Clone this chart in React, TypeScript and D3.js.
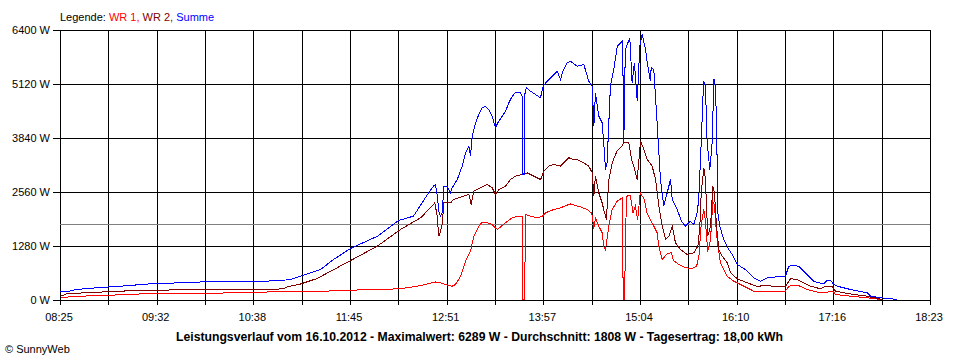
import React from "react";
import * as d3 from "d3";

// time in minutes after midnight, power in W
const sumTime = [505.0,510.5,515.3,532.5,546.2,566.9,587.5,601.2,635.6,656.2,663.1,671.3,683.7,692.7,704.3,722.9,737.3,747.6,758.0,761.4,762.8,764.1,765.0,766.2,767.4,768.5,770.8,773.1,774.2,777.7,781.1,783.4,785.7,786.8,788.0,790.3,792.5,794.9,797.1,799.4,801.7,804.0,805.6,808.6,810.9,813.2,815.5,817.7,821.2,822.4,822.8,823.6,824.3,825.3,828.1,831.5,834.9,836.8,839.5,843.0,846.4,848.7,849.9,853.3,855.6,860.2,864.7,868.1,870.5,871.6,872.7,875.0,877.3,878.4,879.6,880.7,883.0,885.3,887.7,891.1,891.6,892.2,893.0,893.3,896.3,897.9,899.5,901.4,903.2,904.8,907.1,908.3,910.5,911.0,912.8,915.1,917.4,919.7,922.0,924.3,925.5,928.9,931.9,934.6,938.0,940.3,942.6,943.7,945.4,946.8,947.2,948.3,949.5,951.3,952.9,954.1,954.7,955.9,956.8,958.2,960.9,964.4,966.7,970.1,975.8,981.5,986.2,990.8,997.6,1003.3,1005.6,1009.1,1012.5,1015.9,1019.4,1022.8,1026.2,1029.7,1032.0,1034.3,1036.5,1038.9,1043.4,1048.0,1053.7,1059.5,1061.8,1068.6,1075.0,1080.1];
const sumWatt = [178,190,237,284,315,372,396,415,420,450,474,569,711,948,1209,1500,1873,1975,2529,2690,2714,2449,2093,1975,2055,2686,2686,2529,2648,2844,3160,3477,3634,3397,3871,4189,4385,4544,4582,4504,4345,4070,4189,4345,4463,4663,4819,4900,4900,4819,2963,2963,4930,5018,4937,4859,4781,5056,5175,5293,5412,5215,5374,5611,5649,5530,5570,5175,5056,4108,4900,4345,4189,3714,3081,3240,5056,5452,6004,6123,5452,3714,5452,5926,6203,5137,5611,4700,6004,6289,5926,5611,5175,5492,5452,4189,2844,2212,2529,2844,2370,2133,1849,1737,1856,1778,2055,2370,3714,4978,5175,5056,3714,3081,3714,5215,5215,4345,2055,1737,1422,1185,1067,830,711,514,434,514,538,552,789,806,789,671,552,434,396,379,450,457,356,315,277,237,197,159,78,40,20,0];

const wr1Time = [505.0,506.4,508.4,518.7,539.4,562.1,601.2,654.2,683.7,699.5,729.6,743.3,752.5,762.8,766.2,771.9,774.2,776.5,780.0,783.4,786.8,789.1,792.5,794.9,797.1,801.7,805.2,807.4,810.9,815.5,818.9,822.4,822.8,824.0,824.3,824.6,828.1,832.7,836.1,838.4,844.1,848.7,854.4,855.6,862.5,867.1,869.8,870.5,871.6,872.7,875.0,877.3,878.4,879.6,881.9,884.2,887.7,891.1,891.8,892.7,893.3,894.0,896.7,898.5,900.1,901.7,903.5,906.3,908.1,910.5,915.1,916.2,918.6,922.0,924.8,926.4,930.0,934.6,939.3,942.2,943.8,945.4,947.2,948.3,949.9,951.8,953.4,954.5,955.9,956.8,958.7,960.9,963.3,967.8,972.4,981.5,988.4,1003.3,1005.6,1010.2,1013.6,1018.2,1022.8,1027.4,1032.0,1036.1,1037.7,1048.0,1059.5,1064.1,1069.8];
const wr1Watt = [24,59,55,78,102,135,142,183,190,220,237,277,332,415,396,332,315,356,552,908,1145,1500,1737,1832,1832,1778,1659,1719,1818,1937,1975,1975,0,0,948,2015,1975,1937,1975,2055,2133,2174,2252,2264,2193,2133,2055,1975,1683,1937,1737,1581,1263,1185,1737,2133,2330,2411,0,0,1233,2449,2465,2055,2212,1896,2529,2370,2055,1896,1581,1263,948,1090,1107,924,830,751,740,782,1019,1778,2133,1849,1138,1422,2323,2252,1541,1304,853,711,552,434,356,197,197,197,315,339,315,237,197,159,173,197,119,78,40,17,0];

const wr2Time = [505.7,507.3,509.6,523.4,544.0,562.3,596.6,624.1,651.6,658.5,660.8,670.0,681.4,692.9,706.6,722.7,738.7,752.5,759.3,762.3,763.9,765.0,766.2,767.4,768.5,773.1,775.3,778.8,782.2,785.7,787.3,789.1,793.7,798.3,801.7,804.0,806.3,810.9,814.3,817.7,822.4,825.8,830.4,835.0,837.3,840.6,844.1,848.7,851.0,854.4,857.8,860.2,864.7,868.1,870.5,871.6,872.7,875.0,877.3,878.4,880.2,881.9,884.2,887.7,891.1,892.2,895.6,897.5,899.1,901.4,903.7,906.0,908.3,911.7,914.0,916.3,918.6,920.9,923.2,925.5,927.7,931.2,935.8,940.3,943.1,944.4,945.4,947.2,948.3,949.9,951.8,953.4,954.5,955.9,957.5,959.8,963.3,965.5,970.1,977.0,983.9,988.4,995.3,1003.3,1006.8,1011.4,1015.9,1020.5,1027.4,1030.9,1035.4,1037.7,1045.8,1059.5,1064.1,1069.8];
const wr2Watt = [83,102,142,159,197,213,237,237,237,261,301,367,498,711,965,1263,1659,1937,2174,2292,1975,1500,1619,1778,2292,2292,2370,2411,2449,2489,2252,2567,2648,2726,2648,2489,2607,2686,2844,2923,2963,3003,2923,2844,3041,3160,3200,3160,3240,3359,3319,3319,3240,3160,3003,2465,2923,2529,2292,2133,1896,2844,3240,3532,3650,3714,3714,3319,3160,2844,3752,3556,3319,3160,2844,2212,1737,1422,1500,1737,1344,1185,1067,1107,1263,1700,2529,3122,2844,1500,1737,2686,2529,1737,1185,1027,870,640,491,396,308,332,315,315,491,474,396,315,254,315,315,197,142,78,40,0];

const xTickLabels = ["08:25","09:32","10:38","11:45","12:51","13:57","15:04","16:10","17:16","18:23"];
const yTickValues = [0,1280,2560,3840,5120,6400];
const yTickLabels = ["0 W","1280 W","2560 W","3840 W","5120 W","6400 W"];
const timeStart = 505;
const timeEnd = 1103;
const averageWatt = 1808;

const legendItems = [
  { label: "WR 1,", color: "#ff0000" },
  { label: "WR 2,", color: "#800000" },
  { label: "Summe", color: "#0000ff" },
];
const titleText = "Leistungsverlauf vom 16.10.2012 - Maximalwert: 6289 W - Durchschnitt: 1808 W - Tagesertrag: 18,00 kWh";

const FONT = "'Liberation Sans', Arial, sans-serif";

export default function App() {
  const left = 60, right = 930, top = 30, bottom = 300;
  const x = d3.scaleLinear().domain([timeStart, timeEnd]).range([left, right]);
  const y = d3.scaleLinear().domain([0, 6400]).range([bottom, top]);

  const mk = (t: number[], w: number[]) =>
    d3.line<number>().x((_, i) => x(t[i]) + 0.5).y((_, i) => y(w[i]) - 0.5).curve(d3.curveLinear)(t) || "";

  const nGrid = 18;
  const gridTimes = d3.range(nGrid + 1).map((i) => timeStart + (i * (timeEnd - timeStart)) / nGrid);

  return (
    <svg width={960} height={360} style={{ position: "absolute", left: 0, top: 0, background: "#fff" }} fontFamily={FONT}>
      <rect x={0} y={0} width={960} height={360} fill="#fff" />
      {/* vertical grid */}
      {gridTimes.map((t, i) => (
        <line key={"v" + i} x1={Math.round(x(t)) + 0.5} x2={Math.round(x(t)) + 0.5} y1={top} y2={bottom + 5} stroke="#000" strokeWidth={1} />
      ))}
      {/* horizontal grid */}
      {yTickValues.map((v, i) => (
        <line key={"h" + i} x1={left - 7} x2={right} y1={Math.round(y(v)) + 0.5} y2={Math.round(y(v)) + 0.5} stroke="#000" strokeWidth={1} />
      ))}
      {/* average */}
      <line x1={left} x2={right} y1={Math.round(y(averageWatt)) + 0.5} y2={Math.round(y(averageWatt)) + 0.5} stroke="#808080" strokeWidth={1} />
      {/* series */}
      <g fill="none" strokeWidth={1} strokeLinejoin="miter" shapeRendering="crispEdges">
        <path d={mk(wr1Time, wr1Watt)} stroke="#ff0000" />
        <path d={mk(wr2Time, wr2Watt)} stroke="#800000" />
        <path d={mk(sumTime, sumWatt)} stroke="#0000ff" />
      </g>
      {/* y labels */}
      {yTickValues.map((v, i) => (
        <text key={"yl" + i} x={50} y={y(v) + 4} textAnchor="end" fontSize={11} fill="#000">{yTickLabels[i]}</text>
      ))}
      {/* x labels */}
      {xTickLabels.map((lab, i) => (
        <text key={"xl" + i} x={x(timeStart + (i * (timeEnd - timeStart)) / (xTickLabels.length - 1)) - 1} y={321} textAnchor="middle" fontSize={11} fill="#000">{lab}</text>
      ))}
      {/* legend */}
      <text x={60} y={21} fontSize={11}>
        <tspan fill="#000">Legende: </tspan>
        {legendItems.map((it, i) => (
          <tspan key={i} fill={it.color}>{it.label}{i < legendItems.length - 1 ? " " : ""}</tspan>
        ))}
      </text>
      {/* title */}
      <text x={479.5} y={341} textAnchor="middle" fontSize={12} fontWeight="bold" fill="#000" textLength={607} lengthAdjust="spacingAndGlyphs">{titleText}</text>
      <text x={5} y={353} fontSize={11} fill="#000">© SunnyWeb</text>
    </svg>
  );
}
